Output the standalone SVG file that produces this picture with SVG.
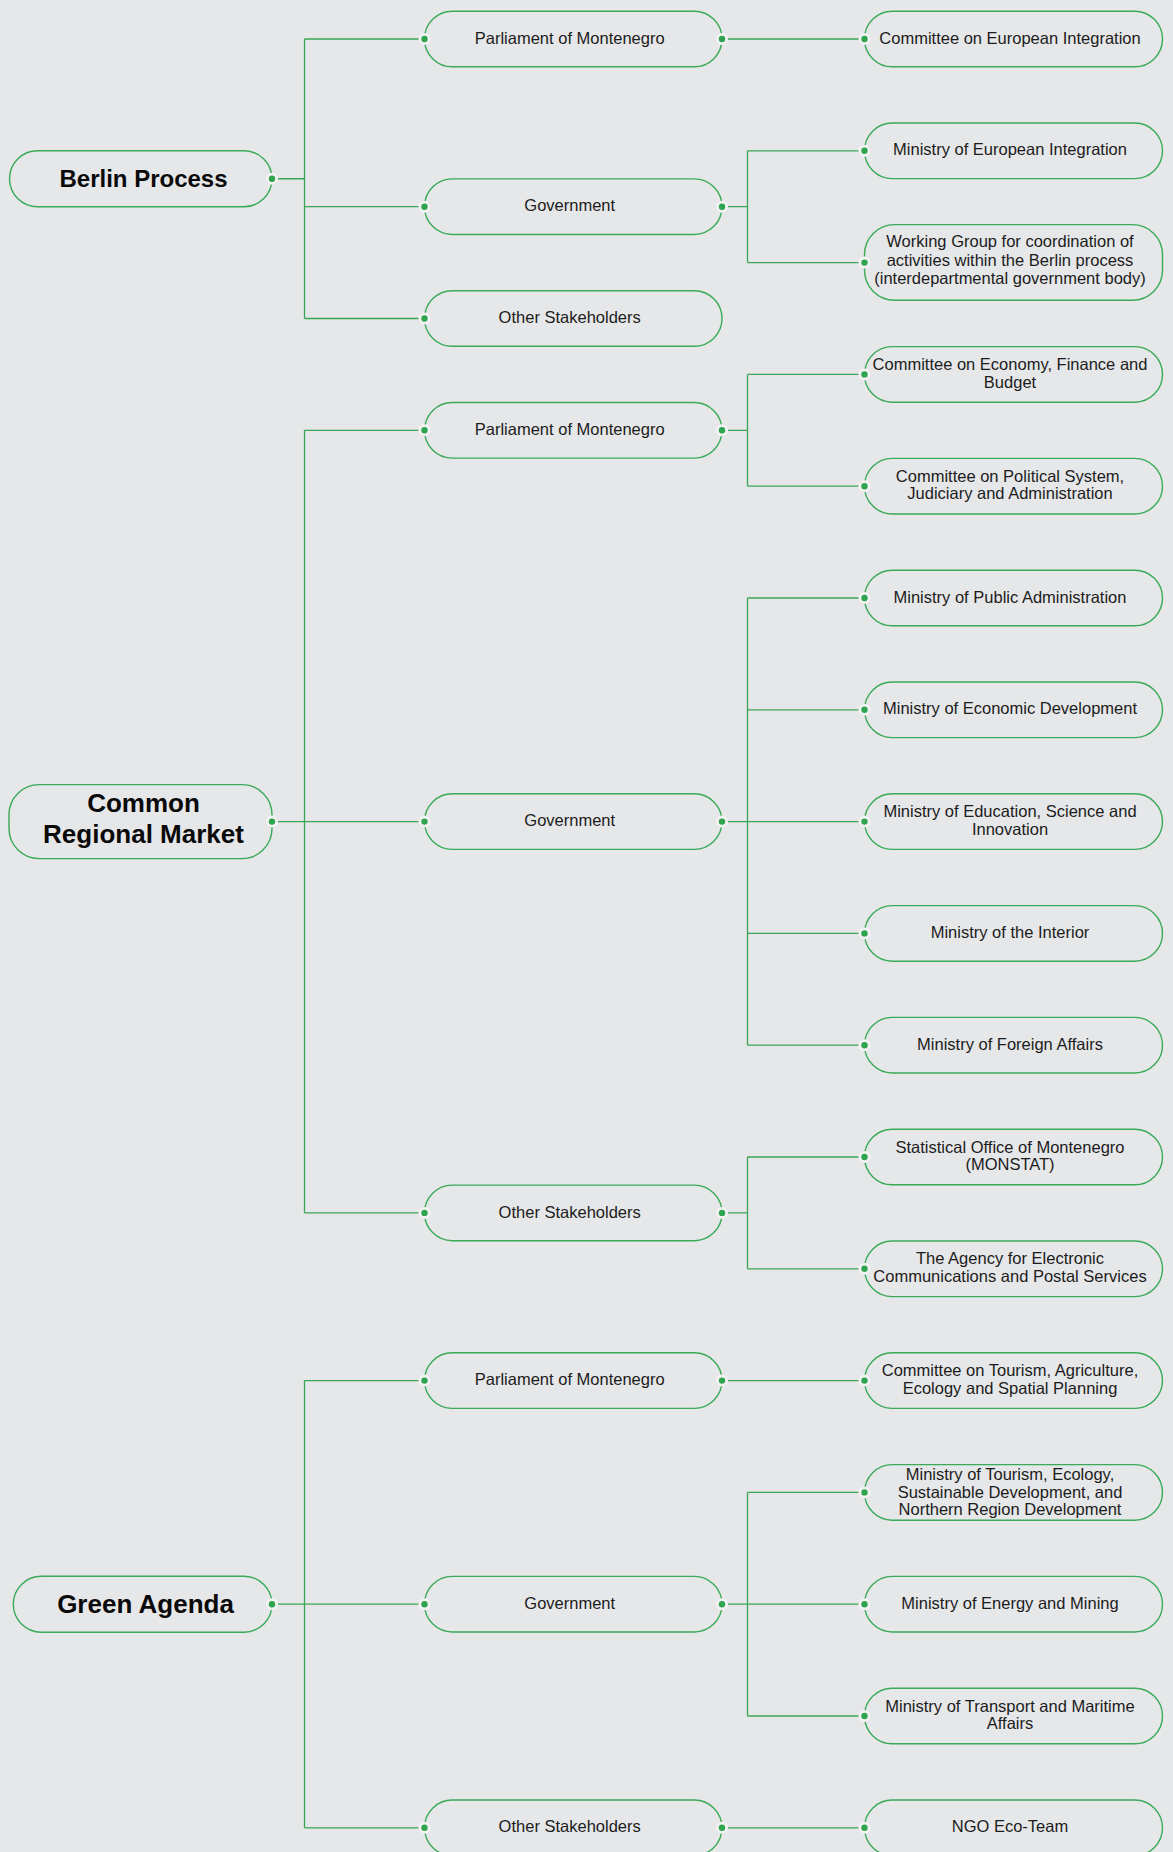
<svg xmlns="http://www.w3.org/2000/svg" width="1173" height="1852" viewBox="0 0 1173 1852">
<style>
.bg{fill:#e6e7e9}
.n rect{fill:none;stroke:#39aa57;stroke-width:1.4}
.n text{font-family:"Liberation Sans",Arial,sans-serif;font-size:16.5px;fill:#1c1c1c;text-anchor:middle}
.r text{font-family:"Liberation Sans",Arial,sans-serif;font-size:25px;font-weight:bold;fill:#0a0a0a;text-anchor:middle}
.c path{fill:none;stroke:#3aa655;stroke-width:1.3}
.h{fill:#f2f2f3}
.d{fill:#2ea44f}
</style>
<defs>
<g id="dot"><circle class="h" r="6"/><circle class="d" r="3.2"/></g>
</defs>
<rect class="bg" x="0" y="0" width="1173" height="1852"/>

<g class="c" id="connectors">
<!-- Berlin Process -->
<path d="M272 178.75H304.5M304.5 39V318.5M304.5 39H424.5M304.5 206.7H424.5M304.5 318.5H424.5"/>
<path d="M722 39H864.5"/>
<path d="M722 206.7H747.5M747.5 150.8V262.6M747.5 150.8H864.5M747.5 262.6H864.5"/>
<!-- Common Regional Market -->
<path d="M272 821.6H304.5M304.5 430.3V1212.9M304.5 430.3H424.5M304.5 821.6H424.5M304.5 1212.9H424.5"/>
<path d="M722 430.3H747.5M747.5 374.4V486.2M747.5 374.4H864.5M747.5 486.2H864.5"/>
<path d="M722 821.6H747.5M747.5 598V1045.2M747.5 598H864.5M747.5 709.8H864.5M747.5 821.6H864.5M747.5 933.4H864.5M747.5 1045.2H864.5"/>
<path d="M722 1212.9H747.5M747.5 1157V1268.8M747.5 1157H864.5M747.5 1268.8H864.5"/>
<!-- Green Agenda -->
<path d="M272 1604.2H304.5M304.5 1380.6V1827.8M304.5 1380.6H424.5M304.5 1604.2H424.5M304.5 1827.8H424.5"/>
<path d="M722 1380.6H864.5"/>
<path d="M722 1604.2H747.5M747.5 1492.4V1716M747.5 1492.4H864.5M747.5 1604.2H864.5M747.5 1716H864.5"/>
<path d="M722 1827.8H864.5"/>
</g>

<!-- Roots -->
<g class="n r" id="berlin-process">
<rect x="9.5" y="150.75" width="262.5" height="56" rx="28"/>
<text x="143.5" y="187.3" style="font-size:24px">Berlin Process</text>
<use href="#dot" x="272" y="178.75"/>
</g>
<g class="n r" id="common-regional-market">
<rect x="9" y="784.6" width="263" height="74" rx="30"/>
<text x="143.5" y="812.3" style="font-size:26px">Common</text>
<text x="143.5" y="843.3" style="font-size:26px">Regional Market</text>
<use href="#dot" x="272" y="821.6"/>
</g>
<g class="n r" id="green-agenda">
<rect x="13.3" y="1576.2" width="258.7" height="56" rx="28"/>
<text x="145.5" y="1612.5" style="font-size:26px">Green Agenda</text>
<use href="#dot" x="272" y="1604.2"/>
</g>

<!-- Berlin level 1 -->
<g class="n" id="bp-parliament">
<rect x="424.5" y="11.2" width="297.5" height="55.6" rx="27.8"/>
<text x="569.7" y="43.6">Parliament of Montenegro</text>
<use href="#dot" x="424.5" y="39"/><use href="#dot" x="722" y="39"/>
</g>
<g class="n" id="bp-government">
<rect x="424.5" y="178.9" width="297.5" height="55.6" rx="27.8"/>
<text x="569.7" y="211.3">Government</text>
<use href="#dot" x="424.5" y="206.7"/><use href="#dot" x="722" y="206.7"/>
</g>
<g class="n" id="bp-other">
<rect x="424.5" y="290.7" width="297.5" height="55.6" rx="27.8"/>
<text x="569.7" y="323.1">Other Stakeholders</text>
<use href="#dot" x="424.5" y="318.5"/>
</g>

<!-- Berlin level 2 -->
<g class="n" id="bp-committee-eu">
<rect x="864.5" y="11.2" width="298" height="55.6" rx="27.8"/>
<text x="1010" y="43.6">Committee on European Integration</text>
<use href="#dot" x="864.5" y="39"/>
</g>
<g class="n" id="bp-ministry-eu">
<rect x="864.5" y="123" width="298" height="55.6" rx="27.8"/>
<text x="1010" y="155.4">Ministry of European Integration</text>
<use href="#dot" x="864.5" y="150.8"/>
</g>
<g class="n" id="bp-working-group">
<rect x="864.5" y="224.6" width="298" height="75.6" rx="30"/>
<text x="1010" y="247">Working Group for coordination of</text>
<text x="1010" y="265.6">activities within the Berlin process</text>
<text x="1010" y="284.2">(interdepartmental government body)</text>
<use href="#dot" x="864.5" y="262.6"/>
</g>

<!-- CRM level 1 -->
<g class="n" id="crm-parliament">
<rect x="424.5" y="402.5" width="297.5" height="55.6" rx="27.8"/>
<text x="569.7" y="434.9">Parliament of Montenegro</text>
<use href="#dot" x="424.5" y="430.3"/><use href="#dot" x="722" y="430.3"/>
</g>
<g class="n" id="crm-government">
<rect x="424.5" y="793.8" width="297.5" height="55.6" rx="27.8"/>
<text x="569.7" y="826.2">Government</text>
<use href="#dot" x="424.5" y="821.6"/><use href="#dot" x="722" y="821.6"/>
</g>
<g class="n" id="crm-other">
<rect x="424.5" y="1185.1" width="297.5" height="55.6" rx="27.8"/>
<text x="569.7" y="1217.5">Other Stakeholders</text>
<use href="#dot" x="424.5" y="1212.9"/><use href="#dot" x="722" y="1212.9"/>
</g>

<!-- CRM level 2 -->
<g class="n" id="crm-committee-economy">
<rect x="864.5" y="346.6" width="298" height="55.6" rx="27.8"/>
<text x="1010" y="370">Committee on Economy, Finance and</text>
<text x="1010" y="387.6">Budget</text>
<use href="#dot" x="864.5" y="374.4"/>
</g>
<g class="n" id="crm-committee-political">
<rect x="864.5" y="458.4" width="298" height="55.6" rx="27.8"/>
<text x="1010" y="481.8">Committee on Political System,</text>
<text x="1010" y="499.4">Judiciary and Administration</text>
<use href="#dot" x="864.5" y="486.2"/>
</g>
<g class="n" id="crm-ministry-public-admin">
<rect x="864.5" y="570.2" width="298" height="55.6" rx="27.8"/>
<text x="1010" y="602.6">Ministry of Public Administration</text>
<use href="#dot" x="864.5" y="598"/>
</g>
<g class="n" id="crm-ministry-economic">
<rect x="864.5" y="682" width="298" height="55.6" rx="27.8"/>
<text x="1010" y="714.4">Ministry of Economic Development</text>
<use href="#dot" x="864.5" y="709.8"/>
</g>
<g class="n" id="crm-ministry-education">
<rect x="864.5" y="793.8" width="298" height="55.6" rx="27.8"/>
<text x="1010" y="817.2">Ministry of Education, Science and</text>
<text x="1010" y="834.8">Innovation</text>
<use href="#dot" x="864.5" y="821.6"/>
</g>
<g class="n" id="crm-ministry-interior">
<rect x="864.5" y="905.6" width="298" height="55.6" rx="27.8"/>
<text x="1010" y="938">Ministry of the Interior</text>
<use href="#dot" x="864.5" y="933.4"/>
</g>
<g class="n" id="crm-ministry-foreign">
<rect x="864.5" y="1017.4" width="298" height="55.6" rx="27.8"/>
<text x="1010" y="1049.8">Ministry of Foreign Affairs</text>
<use href="#dot" x="864.5" y="1045.2"/>
</g>
<g class="n" id="crm-monstat">
<rect x="864.5" y="1129.2" width="298" height="55.6" rx="27.8"/>
<text x="1010" y="1152.6">Statistical Office of Montenegro</text>
<text x="1010" y="1170.2">(MONSTAT)</text>
<use href="#dot" x="864.5" y="1157"/>
</g>
<g class="n" id="crm-agency">
<rect x="864.5" y="1241" width="298" height="55.6" rx="27.8"/>
<text x="1010" y="1264.4">The Agency for Electronic</text>
<text x="1010" y="1282">Communications and Postal Services</text>
<use href="#dot" x="864.5" y="1268.8"/>
</g>

<!-- GA level 1 -->
<g class="n" id="ga-parliament">
<rect x="424.5" y="1352.8" width="297.5" height="55.6" rx="27.8"/>
<text x="569.7" y="1385.2">Parliament of Montenegro</text>
<use href="#dot" x="424.5" y="1380.6"/><use href="#dot" x="722" y="1380.6"/>
</g>
<g class="n" id="ga-government">
<rect x="424.5" y="1576.4" width="297.5" height="55.6" rx="27.8"/>
<text x="569.7" y="1608.8">Government</text>
<use href="#dot" x="424.5" y="1604.2"/><use href="#dot" x="722" y="1604.2"/>
</g>
<g class="n" id="ga-other">
<rect x="424.5" y="1800" width="297.5" height="55.6" rx="27.8"/>
<text x="569.7" y="1832.4">Other Stakeholders</text>
<use href="#dot" x="424.5" y="1827.8"/><use href="#dot" x="722" y="1827.8"/>
</g>

<!-- GA level 2 -->
<g class="n" id="ga-committee-tourism">
<rect x="864.5" y="1352.8" width="298" height="55.6" rx="27.8"/>
<text x="1010" y="1376.2">Committee on Tourism, Agriculture,</text>
<text x="1010" y="1393.8">Ecology and Spatial Planning</text>
<use href="#dot" x="864.5" y="1380.6"/>
</g>
<g class="n" id="ga-ministry-tourism">
<rect x="864.5" y="1464.6" width="298" height="55.6" rx="27.8"/>
<text x="1010" y="1480.2">Ministry of Tourism, Ecology,</text>
<text x="1010" y="1497.5">Sustainable Development, and</text>
<text x="1010" y="1514.8">Northern Region Development</text>
<use href="#dot" x="864.5" y="1492.4"/>
</g>
<g class="n" id="ga-ministry-energy">
<rect x="864.5" y="1576.4" width="298" height="55.6" rx="27.8"/>
<text x="1010" y="1608.8">Ministry of Energy and Mining</text>
<use href="#dot" x="864.5" y="1604.2"/>
</g>
<g class="n" id="ga-ministry-transport">
<rect x="864.5" y="1688.2" width="298" height="55.6" rx="27.8"/>
<text x="1010" y="1711.6">Ministry of Transport and Maritime</text>
<text x="1010" y="1729.2">Affairs</text>
<use href="#dot" x="864.5" y="1716"/>
</g>
<g class="n" id="ga-ngo">
<rect x="864.5" y="1800" width="298" height="55.6" rx="27.8"/>
<text x="1010" y="1832.4">NGO Eco-Team</text>
<use href="#dot" x="864.5" y="1827.8"/>
</g>
</svg>
